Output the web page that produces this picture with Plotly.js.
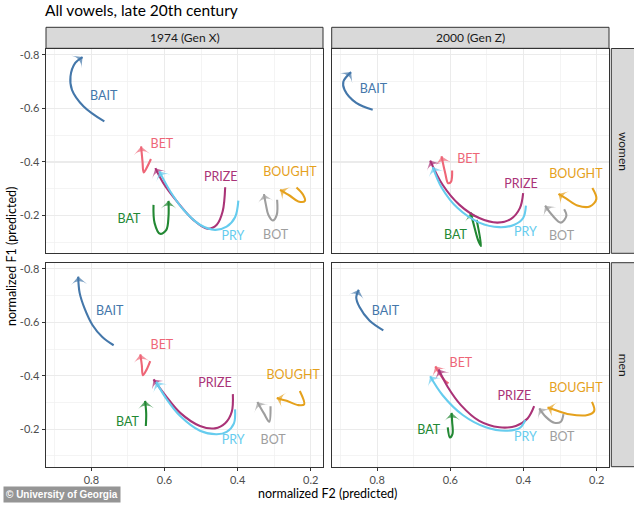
<!DOCTYPE html>
<html>
<head>
<meta charset="utf-8">
<script src="https://cdn.plot.ly/plotly-3.0.1.min.js"></script>
<style>
  html, body { margin: 0; padding: 0; background: #fff; }
  #chart { width: 634px; height: 505px; }
</style>
</head>
<body>
<div id="chart"></div>
<script>
// Vowel order used in every panel array below
const vowels = ['BAIT', 'BAT', 'BET', 'BOT', 'BOUGHT', 'PRIZE', 'PRY'];
const vowelColors = ['#4477AA', '#228833', '#EE6677', '#9E9E9E', '#E5A11C', '#AA3377', '#66CCEE'];

// Panel facets
const decades = ['1974 (Gen X)', '2000 (Gen Z)'];
const genders = ['women', 'men'];

// 1974 women: trajectories (normalized F2, normalized F1)
const F2_1974_women = [
  [0.7645, 0.821, 0.853, 0.857, 0.844, 0.824],
  [0.630, 0.627, 0.612, 0.595, 0.589, 0.589],
  [0.637, 0.650, 0.657, 0.660, 0.664],
  [0.292, 0.293, 0.304, 0.316, 0.3225, 0.328],
  [0.239, 0.221, 0.216, 0.234, 0.257, 0.284],
  [0.434, 0.441, 0.457, 0.483, 0.521, 0.566, 0.603, 0.625],
  [0.398, 0.407, 0.430, 0.462, 0.503, 0.548, 0.584, 0.614]
];
const F1_1974_women = [
  [-0.551, -0.607, -0.669, -0.719, -0.769, -0.791],
  [-0.240, -0.172, -0.132, -0.147, -0.197, -0.255],
  [-0.411, -0.375, -0.361, -0.400, -0.458],
  [-0.259, -0.203, -0.182, -0.203, -0.240, -0.280],
  [-0.305, -0.278, -0.255, -0.253, -0.274, -0.296],
  [-0.306, -0.215, -0.166, -0.151, -0.184, -0.253, -0.321, -0.377],
  [-0.256, -0.194, -0.159, -0.147, -0.166, -0.222, -0.290, -0.365]
];
const labelF2_1974_women = [0.766, 0.697, 0.607, 0.296, 0.257, 0.446, 0.413];
const labelF1_1974_women = [-0.642, -0.185, -0.464, -0.125, -0.359, -0.340, -0.122];

// 2000 women
const F2_2000_women = [
  [0.812, 0.857, 0.889, 0.892, 0.871],
  [0.528, 0.516, 0.5245, 0.537, 0.545],
  [0.595, 0.598, 0.606, 0.614, 0.624],
  [0.289, 0.283, 0.298, 0.3225, 0.341],
  [0.212, 0.201, 0.219, 0.253, 0.283, 0.3045],
  [0.401, 0.410, 0.434, 0.471, 0.521, 0.575, 0.621, 0.655],
  [0.3935, 0.401, 0.425, 0.466, 0.521, 0.580, 0.623, 0.648]
];
const F1_2000_women = [
  [-0.595, -0.620, -0.669, -0.700, -0.735],
  [-0.184, -0.087, -0.110, -0.172, -0.212],
  [-0.368, -0.327, -0.321, -0.359, -0.421],
  [-0.224, -0.199, -0.174, -0.203, -0.237],
  [-0.303, -0.262, -0.234, -0.238, -0.263, -0.281],
  [-0.284, -0.228, -0.188, -0.174, -0.191, -0.240, -0.315, -0.405],
  [-0.237, -0.191, -0.166, -0.157, -0.174, -0.228, -0.303, -0.381]
];
const labelF2_2000_women = [0.810, 0.586, 0.550, 0.296, 0.257, 0.407, 0.395];
const labelF1_2000_women = [-0.667, -0.125, -0.408, -0.122, -0.352, -0.315, -0.137];

// 1974 men
const F2_1974_men = [
  [0.739, 0.770, 0.797, 0.818, 0.832, 0.836],
  [0.651, 0.650, 0.653],
  [0.639, 0.650, 0.659, 0.662, 0.666],
  [0.310, 0.3135, 0.328, 0.346],
  [0.230, 0.218, 0.234, 0.266, 0.293],
  [0.413, 0.416, 0.434, 0.462, 0.503, 0.557, 0.598, 0.630],
  [0.407, 0.410, 0.430, 0.457, 0.503, 0.557, 0.5935, 0.623]
];
const F1_1974_men = [
  [-0.514, -0.545, -0.590, -0.650, -0.710, -0.771],
  [-0.212, -0.259, -0.306],
  [-0.455, -0.420, -0.402, -0.440, -0.480],
  [-0.286, -0.228, -0.259, -0.302],
  [-0.343, -0.2925, -0.290, -0.306, -0.317],
  [-0.331, -0.265, -0.222, -0.203, -0.212, -0.261, -0.327, -0.386],
  [-0.274, -0.222, -0.190, -0.181, -0.194, -0.249, -0.311, -0.377]
];
const labelF2_1974_men = [0.750, 0.701, 0.607, 0.303, 0.248, 0.462, 0.412];
const labelF1_1974_men = [-0.638, -0.222, -0.510, -0.157, -0.398, -0.371, -0.157];

// 2000 men
const F2_2000_men = [
  [0.783, 0.821, 0.848, 0.857, 0.850],
  [0.607, 0.601, 0.594, 0.595, 0.5965],
  [0.605, 0.616, 0.632, 0.641],
  [0.291, 0.298, 0.316, 0.339, 0.357],
  [0.213, 0.207, 0.225, 0.275, 0.312, 0.3345],
  [0.371, 0.389, 0.421, 0.466, 0.521, 0.571, 0.607, 0.632],
  [0.395, 0.410, 0.448, 0.503, 0.566, 0.621, 0.655]
];
const F1_2000_men = [
  [-0.570, -0.607, -0.657, -0.694, -0.722],
  [-0.207, -0.169, -0.182, -0.228, -0.261],
  [-0.371, -0.383, -0.414, -0.435],
  [-0.256, -0.228, -0.224, -0.246, -0.278],
  [-0.302, -0.268, -0.253, -0.256, -0.271, -0.281],
  [-0.286, -0.240, -0.212, -0.207, -0.231, -0.290, -0.358, -0.423],
  [-0.234, -0.205, -0.194, -0.207, -0.253, -0.327, -0.398]
];
const labelF2_2000_men = [0.777, 0.659, 0.571, 0.295, 0.257, 0.425, 0.395];
const labelF1_2000_men = [-0.638, -0.194, -0.443, -0.166, -0.349, -0.319, -0.166];

// Axis ticks
const xTickVals = [0.8, 0.6, 0.4, 0.2];
const xTickText = ['0.8', '0.6', '0.4', '0.2'];
const yTickVals = [-0.8, -0.6, -0.4, -0.2];
const yTickText = ['-0.8', '-0.6', '-0.4', '-0.2'];

// ---------- build ----------
const W = 634, H = 505;
const px = v => v / W;
const py = v => 1 - v / H;

const panels = [
  {xa: 'x',  ya: 'y',  F2: F2_1974_women, F1: F1_1974_women, LX: labelF2_1974_women, LY: labelF1_1974_women},
  {xa: 'x2', ya: 'y2', F2: F2_2000_women, F1: F1_2000_women, LX: labelF2_2000_women, LY: labelF1_2000_women},
  {xa: 'x3', ya: 'y3', F2: F2_1974_men,   F1: F1_1974_men,   LX: labelF2_1974_men,   LY: labelF1_1974_men},
  {xa: 'x4', ya: 'y4', F2: F2_2000_men,   F1: F1_2000_men,   LX: labelF2_2000_men,   LY: labelF1_2000_men}
];

const traces = [];
panels.forEach(p => {
  vowels.forEach((v, i) => {
    const n = p.F2[i].length;
    traces.push({
      type: 'scatter', mode: 'lines+markers',
      x: p.F2[i], y: p.F1[i], xaxis: p.xa, yaxis: p.ya,
      line: {color: vowelColors[i], width: 2.1, shape: 'spline', smoothing: 1},
      marker: {symbol: 'arrow-wide', angleref: 'previous', color: vowelColors[i],
               size: p.F2[i].map((_, k) => k === n - 1 ? 11.5 : 0),
               line: {width: 0}},
      hoverinfo: 'skip', showlegend: false
    });
  });
  traces.push({
    type: 'scatter', mode: 'text',
    x: p.LX, y: p.LY, xaxis: p.xa, yaxis: p.ya,
    text: vowels,
    textfont: {family: 'Lato, sans-serif', size: 12.5, color: vowelColors},
    textposition: 'middle center',
    hoverinfo: 'skip', showlegend: false
  });
});

const colX = [[46, 323], [331.7, 609]];
const rowY = [[48.5, 253.3], [262.7, 466.7]];

function xAxis(col, row) {
  const bottom = row === 1;
  return {
    domain: [px(colX[col][0]), px(colX[col][1])],
    range: [0.924, 0.1665], autorange: false,
    anchor: row === 0 ? (col === 0 ? 'y' : 'y2') : (col === 0 ? 'y3' : 'y4'),
    tickvals: xTickVals, ticktext: xTickText,
    showticklabels: bottom, ticks: bottom ? 'outside' : '',
    ticklen: 3.5, tickwidth: 1, tickcolor: '#333333',
    tickfont: {family: 'Lato, sans-serif', size: 11, color: '#4D4D4D'},
    showgrid: true, gridcolor: '#EBEBEB', gridwidth: 1.1,
    minor: {tickvals: [0.9, 0.7, 0.5, 0.3], showgrid: true, gridcolor: '#EFEFEF', gridwidth: 0.7, ticks: ''},
    zeroline: false, showline: true, mirror: true, linecolor: '#333333', linewidth: 1,
    fixedrange: true
  };
}
function yAxis(col, row) {
  const left = col === 0;
  return {
    domain: [py(rowY[row][1]), py(rowY[row][0])],
    range: [-0.0595, -0.823], autorange: false,
    anchor: row === 0 ? (col === 0 ? 'x' : 'x2') : (col === 0 ? 'x3' : 'x4'),
    tickvals: yTickVals, ticktext: yTickText,
    showticklabels: left, ticks: left ? 'outside' : '',
    ticklen: 3.5, tickwidth: 1, tickcolor: '#333333',
    tickfont: {family: 'Lato, sans-serif', size: 11, color: '#4D4D4D'},
    showgrid: true, gridcolor: '#EBEBEB', gridwidth: 1.1,
    minor: {tickvals: [-0.7, -0.5, -0.3, -0.1], showgrid: true, gridcolor: '#EFEFEF', gridwidth: 0.7, ticks: ''},
    zeroline: false, showline: true, mirror: true, linecolor: '#333333', linewidth: 1,
    fixedrange: true
  };
}

const shapes = [];
const annotations = [];
// top strips
decades.forEach((d, c) => {
  shapes.push({type: 'rect', xref: 'paper', yref: 'paper',
    x0: px(colX[c][0]), x1: px(colX[c][1]), y0: py(48.3), y1: py(27.3),
    fillcolor: '#D9D9D9', line: {color: '#333333', width: 1}, layer: 'below'});
  annotations.push({xref: 'paper', yref: 'paper', x: px((colX[c][0] + colX[c][1]) / 2), y: py(37.8),
    text: d, showarrow: false, xanchor: 'center', yanchor: 'middle',
    font: {family: 'Lato, sans-serif', size: 12, color: '#1A1A1A'}});
});
// right strips
genders.forEach((g, r) => {
  shapes.push({type: 'rect', xref: 'paper', yref: 'paper',
    x0: px(611.3), x1: px(635), y0: py(rowY[r][1]), y1: py(rowY[r][0]),
    fillcolor: '#D9D9D9', line: {color: '#333333', width: 1}, layer: 'below'});
  annotations.push({xref: 'paper', yref: 'paper', x: px(623), y: py((rowY[r][0] + rowY[r][1]) / 2),
    text: g, showarrow: false, textangle: 90, xanchor: 'center', yanchor: 'middle',
    font: {family: 'Lato, sans-serif', size: 12, color: '#1A1A1A'}});
});
// axis titles
annotations.push({xref: 'paper', yref: 'paper', x: px(327), y: py(493),
  text: 'normalized F2 (predicted)', showarrow: false, xanchor: 'center', yanchor: 'middle',
  font: {family: 'Lato, sans-serif', size: 12.5, color: '#000000'}});
annotations.push({xref: 'paper', yref: 'paper', x: px(11), y: py(257),
  text: 'normalized F1 (predicted)', showarrow: false, textangle: -90, xanchor: 'center', yanchor: 'middle',
  font: {family: 'Lato, sans-serif', size: 12.5, color: '#000000'}});
// credit
annotations.push({xref: 'paper', yref: 'paper', x: px(3), y: py(494.5),
  text: '<b>© University of Georgia</b>', showarrow: false, xanchor: 'left', yanchor: 'middle',
  bgcolor: 'rgba(130,130,130,0.85)', borderpad: 2,
  font: {family: 'Liberation Sans, Arial, sans-serif', size: 10, color: '#FFFFFF'}});

const layout = {
  width: W, height: H,
  margin: {l: 0, r: 0, t: 0, b: 0},
  paper_bgcolor: '#FFFFFF', plot_bgcolor: '#FFFFFF',
  title: {text: 'All vowels, late 20th century', x: px(45), xanchor: 'left', y: py(11), yanchor: 'middle',
          font: {family: 'Lato, sans-serif', size: 15.5, color: '#000000'}},
  xaxis: xAxis(0, 0), xaxis2: xAxis(1, 0), xaxis3: xAxis(0, 1), xaxis4: xAxis(1, 1),
  yaxis: yAxis(0, 0), yaxis2: yAxis(1, 0), yaxis3: yAxis(0, 1), yaxis4: yAxis(1, 1),
  shapes: shapes, annotations: annotations,
  showlegend: false
};

Plotly.newPlot('chart', traces, layout, {staticPlot: true, displayModeBar: false});
</script>
</body>
</html>
